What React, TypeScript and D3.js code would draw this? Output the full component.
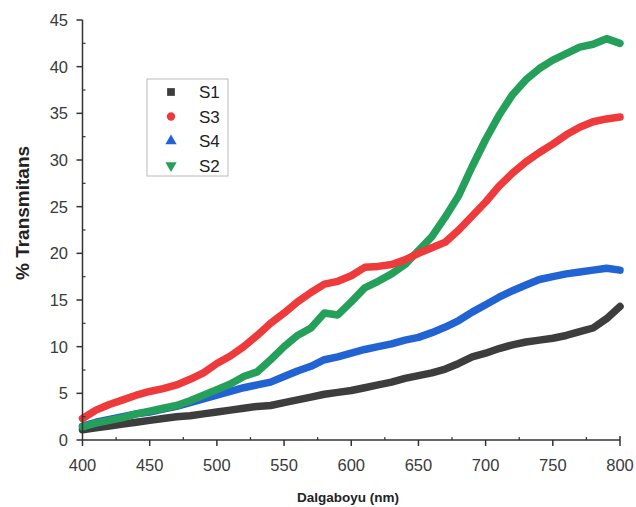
import React from "react";
import * as d3 from "d3";

const wavelengths = [400,410,420,430,440,450,460,470,480,490,500,510,520,530,540,550,560,570,580,590,600,610,620,630,640,650,660,670,680,690,700,710,720,730,740,750,760,770,780,790,800];
const s1 = [1.1,1.3,1.5,1.7,1.9,2.1,2.3,2.5,2.6,2.8,3.0,3.2,3.4,3.6,3.7,4.0,4.3,4.6,4.9,5.1,5.3,5.6,5.9,6.2,6.6,6.9,7.2,7.6,8.2,8.9,9.3,9.8,10.2,10.5,10.7,10.9,11.2,11.6,12.0,13.0,14.3];
const s3 = [2.3,3.2,3.8,4.3,4.8,5.2,5.5,5.9,6.5,7.2,8.2,9.0,10.0,11.2,12.5,13.6,14.8,15.8,16.7,17.0,17.6,18.5,18.6,18.8,19.3,20.0,20.6,21.2,22.5,24.0,25.5,27.2,28.6,29.8,30.8,31.7,32.7,33.5,34.1,34.4,34.6];
const s4 = [1.5,1.9,2.2,2.5,2.8,3.0,3.3,3.6,4.0,4.4,4.8,5.2,5.6,5.9,6.2,6.8,7.4,7.9,8.6,8.9,9.3,9.7,10.0,10.3,10.7,11.0,11.5,12.1,12.8,13.7,14.5,15.3,16.0,16.6,17.2,17.5,17.8,18.0,18.2,18.4,18.2];
const s2 = [1.4,1.8,2.1,2.4,2.8,3.1,3.4,3.7,4.2,4.8,5.4,6.0,6.8,7.3,8.6,10.0,11.2,12.0,13.6,13.4,14.8,16.3,17.0,17.8,18.8,20.3,21.8,23.9,26.2,29.3,32.2,34.8,37.0,38.6,39.8,40.7,41.4,42.1,42.4,43.0,42.5];

const seriesNames = ["S1", "S3", "S4", "S2"];
const seriesValues = [s1, s3, s4, s2];
const seriesColors = ["#3d3d3d", "#ee3a3a", "#2163d3", "#24a05a"];
const seriesSymbols = [d3.symbolSquare, d3.symbolCircle, d3.symbolTriangle, d3.symbolTriangle];
const drawOrder = [0, 2, 3, 1];

const xTicks = [400,450,500,550,600,650,700,750,800];
const yTicks = [0,5,10,15,20,25,30,35,40,45];

export default function App() {
  const W = 636, H = 507;
  const x = d3.scaleLinear().domain([400, 800]).range([82.5, 620]);
  const y = d3.scaleLinear().domain([0, 45]).range([440, 20]);
  const line = d3.line<number>().x((_, i) => x(wavelengths[i])).y(d => y(d)).curve(d3.curveLinear);
  const font = "'Liberation Sans', Arial, sans-serif";
  const axisColor = "#333";
  const labelColor = "#3a3a3a";
  const minorX = d3.range(425, 800, 50);
  const minorY = d3.range(2.5, 45, 5);

  return (
    <svg width={W} height={H} style={{ position: "absolute", left: 0, top: 0, background: "#fff" }} fontFamily={font}>
      {drawOrder.map(si => (
        <path key={si} d={line(seriesValues[si]) || ""} fill="none" stroke={seriesColors[si]} strokeWidth={7.5} strokeLinejoin="round" strokeLinecap="round" />
      ))}
      {/* axes */}
      <line x1={x(400)} x2={x(400)} y1={y(0)} y2={y(45)} stroke={axisColor} strokeWidth={1.5} />
      <line x1={x(400)} x2={x(800)} y1={y(0)} y2={y(0)} stroke={axisColor} strokeWidth={1.5} />
      {yTicks.map(t => (
        <g key={"y" + t}>
          <line x1={x(400) - 6} x2={x(400)} y1={y(t)} y2={y(t)} stroke={axisColor} strokeWidth={1.5} />
          <text x={68} y={y(t)} dy="0.36em" textAnchor="end" fontSize={16.5} fill={labelColor}>{t}</text>
        </g>
      ))}
      {minorY.map(t => (
        <line key={"my" + t} x1={x(400)} x2={x(400) + 3} y1={y(t)} y2={y(t)} stroke={axisColor} strokeWidth={1.2} />
      ))}
      {xTicks.map(t => (
        <g key={"x" + t}>
          <line x1={x(t)} x2={x(t)} y1={y(0)} y2={y(0) + 6} stroke={axisColor} strokeWidth={1.5} />
          {t === 800 && <line x1={x(t)} x2={x(t)} y1={y(0) - 4} y2={y(0)} stroke={axisColor} strokeWidth={1.5} />}
          <text x={x(t)} y={471} textAnchor="middle" fontSize={16.5} fill={labelColor}>{t}</text>
        </g>
      ))}
      {minorX.map(t => (
        <line key={"mx" + t} x1={x(t)} x2={x(t)} y1={y(0) - 3} y2={y(0)} stroke={axisColor} strokeWidth={1.2} />
      ))}
      <text x={348} y={502} textAnchor="middle" fontSize={13.5} fontWeight="bold" fill="#222">Dalgaboyu (nm)</text>
      <text transform="translate(29,213) rotate(-90)" textAnchor="middle" fontSize={19} fontWeight="bold" fill="#222">% Transmitans</text>
      {/* legend */}
      <rect x={147} y={79} width={81} height={97} fill="#fff" stroke="#bbb" strokeWidth={1} />
      {seriesNames.map((n, i) => {
        const cy = 92 + i * 24.5;
        const rot = i === 3 ? 180 : 0;
        return (
          <g key={n}>
            <path d={d3.symbol().type(seriesSymbols[i]).size(i === 0 ? 60 : 55)() || ""} transform={`translate(171,${cy}) rotate(${rot})`} fill={seriesColors[i]} />
            <text x={199} y={cy} dy="0.36em" fontSize={17} fill="#222">{n}</text>
          </g>
        );
      })}
    </svg>
  );
}
